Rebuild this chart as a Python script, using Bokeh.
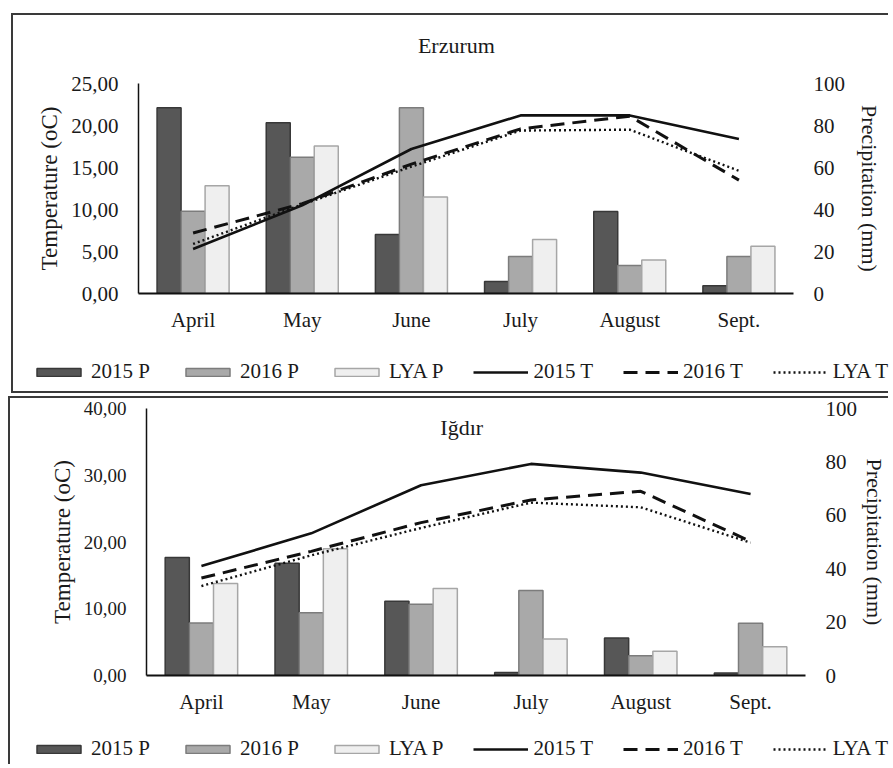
from bokeh.plotting import figure
from bokeh.models import (ColumnDataSource, FactorRange, Range1d, LinearAxis,
                          FixedTicker, Legend, LegendItem, Label)
from bokeh.transform import dodge
from bokeh.layouts import column
from bokeh.embed import file_html
from bokeh.resources import INLINE

# ---------------- data ----------------
months = ["April", "May", "June", "July", "August", "Sept."]

# Erzurum: precipitation (mm, right axis) / temperature (oC, left axis)
erz_p2015 = [88.4, 81.3, 28.1, 5.7, 39.0, 3.7]
erz_p2016 = [39.2, 64.9, 88.4, 17.6, 13.3, 17.6]
erz_plya = [51.3, 70.2, 45.9, 25.7, 16.0, 22.5]
erz_t2015 = [5.3, 10.5, 17.2, 21.2, 21.2, 18.4]
erz_t2016 = [7.2, 10.7, 15.4, 19.6, 21.1, 13.5]
erz_tlya = [5.9, 10.6, 15.1, 19.4, 19.5, 14.6]

# Igdir
igd_p2015 = [44.2, 42.0, 27.8, 1.1, 14.0, 0.9]
igd_p2016 = [19.7, 23.5, 26.7, 31.8, 7.4, 19.6]
igd_plya = [34.5, 47.5, 32.6, 13.7, 9.1, 10.8]
igd_t2015 = [16.4, 21.3, 28.5, 31.7, 30.4, 27.2]
igd_t2016 = [14.6, 18.6, 22.9, 26.3, 27.6, 20.1]
igd_tlya = [13.4, 18.0, 22.1, 25.9, 25.2, 19.9]

erz_temp_ticks = [0, 5, 10, 15, 20, 25]
erz_temp_labels = ["0,00", "5,00", "10,00", "15,00", "20,00", "25,00"]
igd_temp_ticks = [0, 10, 20, 30, 40]
igd_temp_labels = ["0,00", "10,00", "20,00", "30,00", "40,00"]
prec_ticks = [0, 20, 40, 60, 80, 100]
prec_labels = ["0", "20", "40", "60", "80", "100"]

series_labels = ["2015 P", "2016 P", "LYA P", "2015 T", "2016 T", "LYA T"]

# ---------------- style ----------------
FONT = "Liberation Serif"
INK = "#1a1a1a"
BORDER = "2px solid #3a3a3a"
BAR_STYLES = [("#575757", "#383838"), ("#a9a9a9", "#7c7c7c"),
              ("#efefef", "#a6a6a6")]
LINE_STYLES = [dict(line_width=2.6, line_dash="solid"),
               dict(line_width=3, line_dash="14 8"),
               dict(line_width=2.4, line_dash="2 3")]


def blank_fig(width, height, margin, styles):
    f = figure(width=width, height=height, x_range=Range1d(0, 1),
               y_range=Range1d(0, 1), output_backend="svg",
               toolbar_location=None, x_axis_type=None, y_axis_type=None,
               min_border=0, outline_line_color=None,
               background_fill_color="white", border_fill_color="white")
    f.margin = margin
    f.styles = styles
    return f


def header(text, width, height, margin, styles, xfrac, yfrac):
    f = blank_fig(width, height, margin, styles)
    f.add_layout(Label(x=xfrac, y=yfrac, text=text, text_align="center",
                       text_baseline="middle", text_font=FONT,
                       text_font_size="22px", text_color=INK))
    return f


def legend_fig(width, height, margin, styles, loc):
    f = blank_fig(width, height, margin, styles)
    rends = []
    # legend swatches: glyphs placed outside the visible 0..1 range
    for fill, line in BAR_STYLES:
        rends.append(f.vbar(x=[5], top=[5], bottom=[4], width=0.1,
                            fill_color=fill, line_color=line, line_width=1.5))
    for st in LINE_STYLES:
        rends.append(f.line(x=[5, 6], y=[5, 5], line_color="#111111", **st))
    items = [LegendItem(label=lab, renderers=[r])
             for lab, r in zip(series_labels, rends)]
    leg = Legend(items=items, orientation="horizontal", location=loc,
                 label_text_font=FONT, label_text_font_size="21px",
                 label_text_color=INK, glyph_width=55, glyph_height=10,
                 label_standoff=5, spacing=30, padding=3, margin=0,
                 border_line_color=None, background_fill_alpha=0)
    f.add_layout(leg)
    return f


def chart(p15, p16, plya, t15, t16, tlya, t_max, t_ticks, t_labels,
          width, height, mb, margin, styles, tick_size, right_standoff,
          title=None):
    src = ColumnDataSource(dict(month=months, p15=p15, p16=p16, plya=plya,
                                t15=t15, t16=t16, tlya=tlya))
    p = figure(x_range=FactorRange(*months, range_padding=0),
               y_range=Range1d(0, t_max), width=width, height=height,
               output_backend="svg", toolbar_location=None,
               min_border_left=mb[0], min_border_right=mb[1],
               min_border_top=mb[2], min_border_bottom=mb[3],
               outline_line_color=None, background_fill_color="white",
               border_fill_color="white")
    p.margin = margin
    p.styles = styles
    p.extra_y_ranges = {"prec": Range1d(0, 100)}
    p.xgrid.grid_line_color = None
    p.ygrid.grid_line_color = None

    for (col, off), (fill, line) in zip([("p15", -0.22), ("p16", 0.0),
                                         ("plya", 0.22)], BAR_STYLES):
        p.vbar(x=dodge("month", off, range=p.x_range), top=col, width=0.22,
               source=src, y_range_name="prec", fill_color=fill,
               line_color=line, line_width=1.5)

    for col, st in zip(["t15", "t16", "tlya"], LINE_STYLES):
        p.line(x="month", y=col, source=src, line_color="#111111", **st)

    ya = p.yaxis[0]
    ya.ticker = FixedTicker(ticks=t_ticks)
    ya.major_label_overrides = {t: l for t, l in zip(t_ticks, t_labels)}
    ya.axis_label = "Temperature (oC)"
    ya.axis_label_text_font = FONT
    ya.axis_label_text_font_size = "23px"
    ya.axis_label_text_font_style = "normal"
    ya.axis_label_text_color = INK
    ya.axis_label_standoff = 6
    ya.major_label_text_font = FONT
    ya.major_label_text_font_size = tick_size
    ya.major_label_text_color = INK
    ya.major_label_standoff = 14
    ya.major_tick_line_color = None
    ya.minor_tick_line_color = None
    ya.axis_line_color = "#111111"
    ya.axis_line_width = 1.5

    ra = LinearAxis(y_range_name="prec", ticker=FixedTicker(ticks=prec_ticks))
    ra.major_label_overrides = {t: l for t, l in zip(prec_ticks, prec_labels)}
    ra.axis_label = "Precipitation (mm)"
    ra.axis_label_text_font = FONT
    ra.axis_label_text_font_size = "22px"
    ra.axis_label_text_font_style = "normal"
    ra.axis_label_text_color = INK
    ra.axis_label_standoff = right_standoff
    ra.major_label_text_font = FONT
    ra.major_label_text_font_size = "21px"
    ra.major_label_text_color = INK
    ra.major_label_standoff = 14
    ra.major_tick_line_color = None
    ra.minor_tick_line_color = None
    ra.axis_line_color = None
    p.add_layout(ra, "right")

    xa = p.xaxis[0]
    xa.major_label_text_font = FONT
    xa.major_label_text_font_size = "21px"
    xa.major_label_text_color = INK
    xa.major_label_standoff = 8
    xa.major_tick_line_color = None
    xa.minor_tick_line_color = None
    xa.axis_line_color = "#111111"
    xa.axis_line_width = 2.2

    if title is not None:
        text, tx, ty = title
        p.add_layout(Label(x=tx, y=ty, text=text, text_align="center",
                           text_baseline="middle", text_font=FONT,
                           text_font_size="22px", text_color=INK))
    return p


# ---------------- Erzurum panel ----------------
erz_head = header("Erzurum", 877, 57, (13, 0, 0, 11),
                  {"border-left": BORDER, "border-top": BORDER}, 0.505, 0.47)
erz_chart = chart(erz_p2015, erz_p2016, erz_plya, erz_t2015, erz_t2016,
                  erz_tlya, 25, erz_temp_ticks, erz_temp_labels,
                  width=877, height=275, mb=(125, 97, 13, 52),
                  margin=(0, 0, 0, 11), styles={"border-left": BORDER},
                  tick_size="21px", right_standoff=9)
erz_leg = legend_fig(877, 48, (0, 0, 0, 11),
                     {"border-left": BORDER, "border-bottom": BORDER},
                     (18, 9))

# ---------------- Igdir panel ----------------
igd_chart = chart(igd_p2015, igd_p2016, igd_plya, igd_t2015, igd_t2016,
                  igd_tlya, 40, igd_temp_ticks, igd_temp_labels,
                  width=880, height=334, mb=(136, 70, 10, 57),
                  margin=(3, 0, 0, 8),
                  styles={"border-left": BORDER, "border-top": BORDER},
                  tick_size="19px", right_standoff=2,
                  title=("Iğdır", 2.87, 37.1))
igd_leg = legend_fig(880, 34, (0, 0, 0, 8), {"border-left": BORDER},
                     (21, 3))

# each chart sits in its own column so its frame is not aligned with
# the title / legend strips
layout = column(erz_head, column(erz_chart), erz_leg,
                column(igd_chart), igd_leg)

open("out.html", "w").write(file_html(layout, INLINE))
